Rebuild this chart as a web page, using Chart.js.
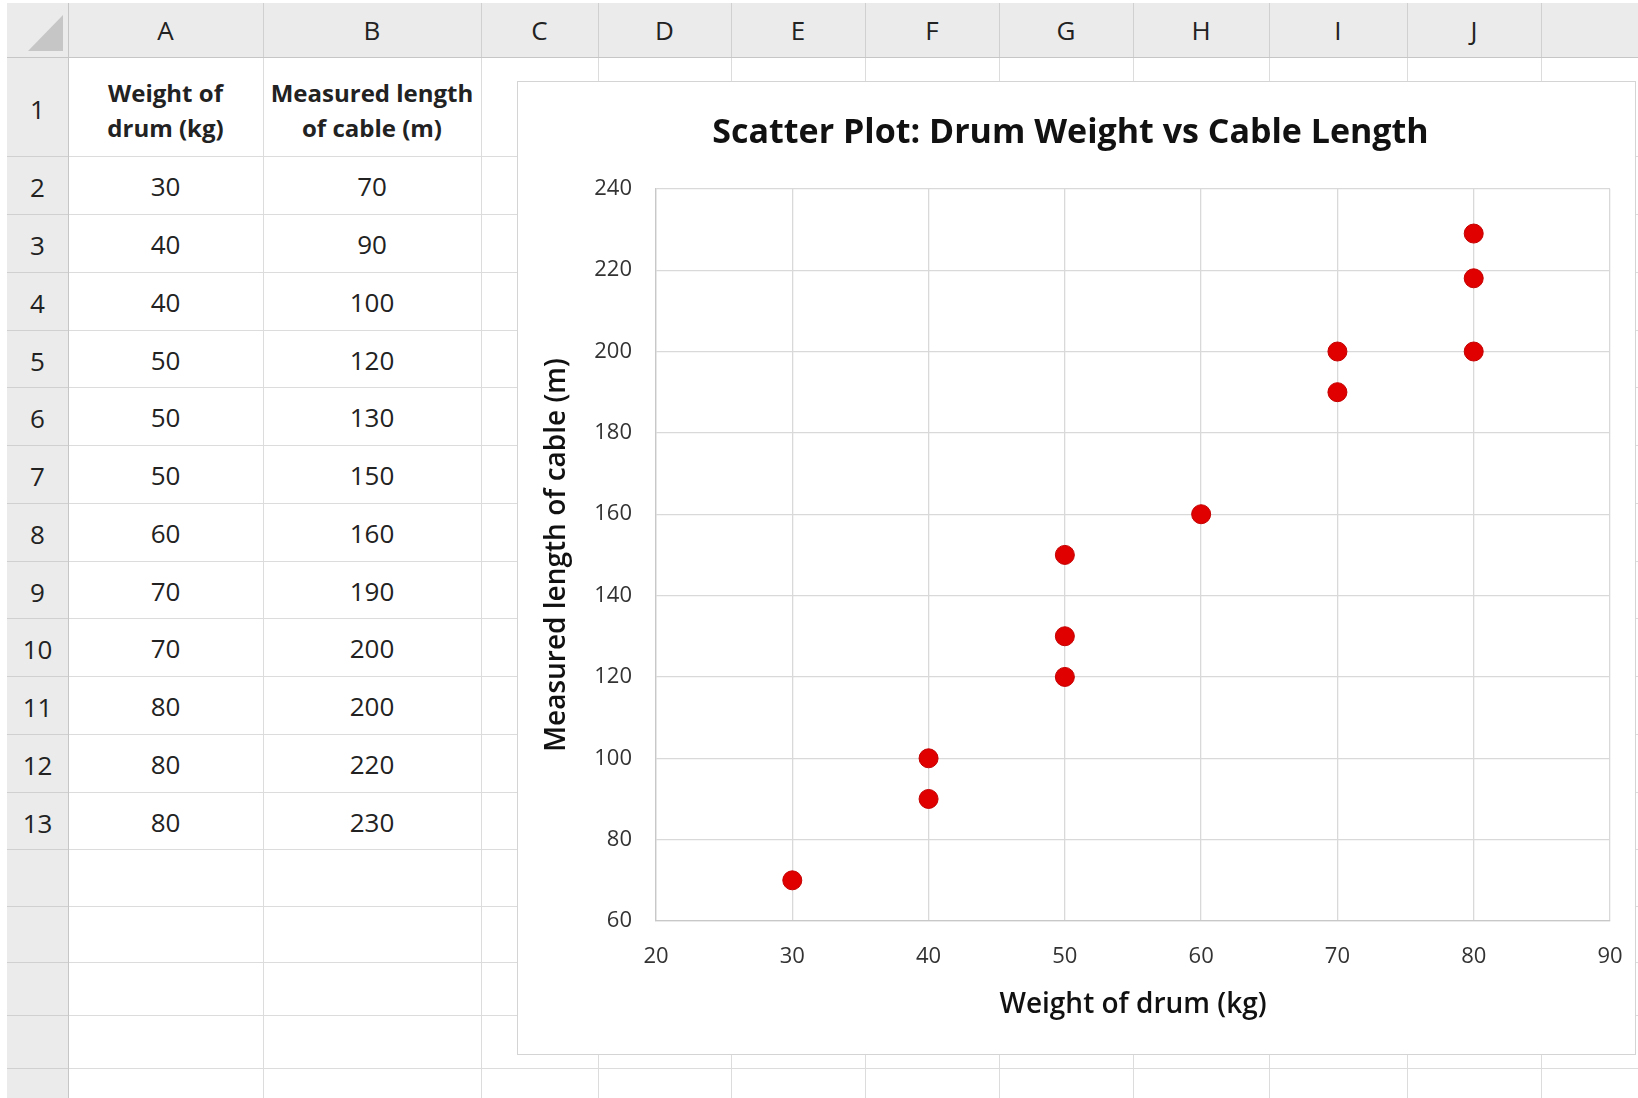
<!DOCTYPE html>
<html>
<head>
<meta charset="utf-8">
<title>Drum Weight vs Cable Length</title>
<script src="https://cdn.jsdelivr.net/npm/chart.js@4.4.1/dist/chart.umd.min.js"></script>
<style>
html, body { margin: 0; padding: 0; background: #fff; }
#sheet { position: relative; width: 1638px; height: 1098px; overflow: hidden; background: #fff;
  font-family: "Open Sans", sans-serif; color: #222; }
.band { position: absolute; background: #ebebeb; }
.line { position: absolute; background: #dcdcdc; }
.txt { position: absolute; display: flex; align-items: center; justify-content: center; text-align: center; }
#corner { position: absolute; left: 28px; top: 15px; width: 35px; height: 36px; background: #c6c6c6;
  clip-path: polygon(0 100%, 100% 100%, 100% 0); }
#chartBox { position: absolute; left: 517px; top: 81px; width: 1117px; height: 972px;
  border: 1px solid #d4d4d4; background: #fff; }
</style>
</head>
<body>
<div id="sheet">
  <div id="corner"></div>
  <div id="chartBox"><canvas id="scatterChart" width="1117" height="972"></canvas></div>
</div>
<script>
// DATA
const columnLetters = ["A", "B", "C", "D", "E", "F", "G", "H", "I", "J", ""];
const headerA = ["Weight of", "drum (kg)"];
const headerB = ["Measured length", "of cable (m)"];
const tableWeights = [30, 40, 40, 50, 50, 50, 60, 70, 70, 80, 80, 80];
const tableLengths = [70, 90, 100, 120, 130, 150, 160, 190, 200, 200, 220, 230];

const pointWeights = [30, 40, 40, 50, 50, 50, 60, 70, 70, 80, 80, 80];
const pointLengths = [70, 90, 100, 120, 130, 150, 160, 190, 200, 200, 218, 229];

const chartTitle = "Scatter Plot: Drum Weight vs Cable Length";
const xTitle = "Weight of drum (kg)";
const yTitle = "Measured length of cable (m)";
const xRange = [20, 90, 10];
const yRange = [60, 240, 20];

// SHEET GRID
const colEdges = [68, 263, 481, 598, 731, 865, 999, 1133, 1269, 1407, 1541, 1638];
const rowEdges = [57, 156, 214, 272, 330, 387, 445, 503, 561, 618, 676, 734, 792, 849, 906, 962, 1015, 1068, 1098];

const sheet = document.getElementById("sheet");
const chartBox = document.getElementById("chartBox");

function box(cls, l, t, w, h, bg) {
  const d = document.createElement("div");
  d.className = cls;
  d.style.left = l + "px"; d.style.top = t + "px";
  d.style.width = w + "px"; d.style.height = h + "px";
  if (bg) d.style.background = bg;
  sheet.insertBefore(d, chartBox);
  return d;
}

function text(l, t, w, h, html, size, weight, lh) {
  const d = box("txt", l, t, w, h);
  d.innerHTML = html;
  d.style.fontSize = size + "px";
  d.style.fontWeight = weight;
  d.style.lineHeight = lh + "px";
  return d;
}

// header bands
box("band", 7, 3, 1631, 54);
box("band", 7, 57, 61, 1041);
sheet.insertBefore(document.getElementById("corner"), chartBox);

// cell grid
for (let i = 1; i < colEdges.length - 1; i++) box("line", colEdges[i], 57, 1, 1041);
for (let i = 1; i < rowEdges.length - 1; i++) box("line", 68, rowEdges[i], 1570, 1);

// header separators
for (let i = 0; i < colEdges.length - 1; i++) box("line", colEdges[i], 3, 1, 54, "#d0d0d0");
for (let i = 1; i < rowEdges.length - 1; i++) box("line", 7, rowEdges[i], 61, 1, "#d0d0d0");
box("line", 7, 57, 1631, 1, "#c6c6c6");
box("line", 68, 3, 1, 1095, "#c6c6c6");

// column letters
for (let i = 0; i < colEdges.length - 1; i++) {
  text(colEdges[i], 3, colEdges[i + 1] - colEdges[i], 54, columnLetters[i], 26, 400, 30);
}

// row numbers + cells
for (let r = 0; r < tableWeights.length + 1; r++) {
  const t = rowEdges[r], h = rowEdges[r + 1] - rowEdges[r];
  text(7, t + 2, 61, h, String(r + 1), 26, 400, 30);
  if (r === 0) {
    text(colEdges[0], t + 3, colEdges[1] - colEdges[0], h, headerA.join("<br>"), 24, 700, 35);
    text(colEdges[1], t + 3, colEdges[2] - colEdges[1], h, headerB.join("<br>"), 24, 700, 35);
  } else {
    text(colEdges[0], t + 1, colEdges[1] - colEdges[0], h, String(tableWeights[r - 1]), 26, 400, 30);
    text(colEdges[1], t + 1, colEdges[2] - colEdges[1], h, String(tableLengths[r - 1]), 26, 400, 30);
  }
}

// CHART
const gridColor = "#d9d9d9";
const points = pointWeights.map((w, i) => ({ x: w, y: pointLengths[i] }));

new Chart(document.getElementById("scatterChart"), {
  type: "scatter",
  data: {
    datasets: [{
      label: yTitle,
      data: points,
      backgroundColor: "#e00000",
      borderColor: "#c40000",
      borderWidth: 1,
      pointRadius: 9.5,
      pointHoverRadius: 9.5
    }]
  },
  options: {
    responsive: false,
    animation: false,
    devicePixelRatio: 1,
    layout: { padding: { left: 13, right: 25, top: 0, bottom: 0 } },
    plugins: {
      legend: { display: false },
      tooltip: { enabled: false },
      title: {
        display: true,
        text: chartTitle,
        color: "#111",
        font: { family: "Open Sans", size: 34, weight: "bold" },
        padding: { top: 31, bottom: 35 }
      }
    },
    scales: {
      x: {
        type: "linear",
        min: xRange[0], max: xRange[1],
        ticks: { stepSize: xRange[2], padding: 23, color: "#333", font: { family: "Open Sans", size: 22 } },
        grid: { color: gridColor, lineWidth: 1.3, drawTicks: false },
        border: { color: "#c8c8c8", width: 1.3 },
        title: {
          display: true, text: xTitle, color: "#111",
          font: { family: "Open Sans", size: 28, weight: "600" },
          padding: { top: 0, bottom: 32 }
        },
        afterFit(axis) {
          axis.height = 133;
          axis.paddingLeft = 0;
          axis.paddingRight = 0;
        }
      },
      y: {
        type: "linear",
        min: yRange[0], max: yRange[1],
        ticks: { stepSize: yRange[2], padding: 24, color: "#333", font: { family: "Open Sans", size: 22 } },
        grid: { color: gridColor, lineWidth: 1.3, drawTicks: false },
        border: { color: "#c8c8c8", width: 1.3 },
        title: {
          display: true, text: yTitle, color: "#111",
          font: { family: "Open Sans", size: 28, weight: "600" },
          padding: { top: 9, bottom: 0 }
        },
        afterFit(axis) { axis.width = 125; }
      }
    }
  }
});
</script>
</body>
</html>
